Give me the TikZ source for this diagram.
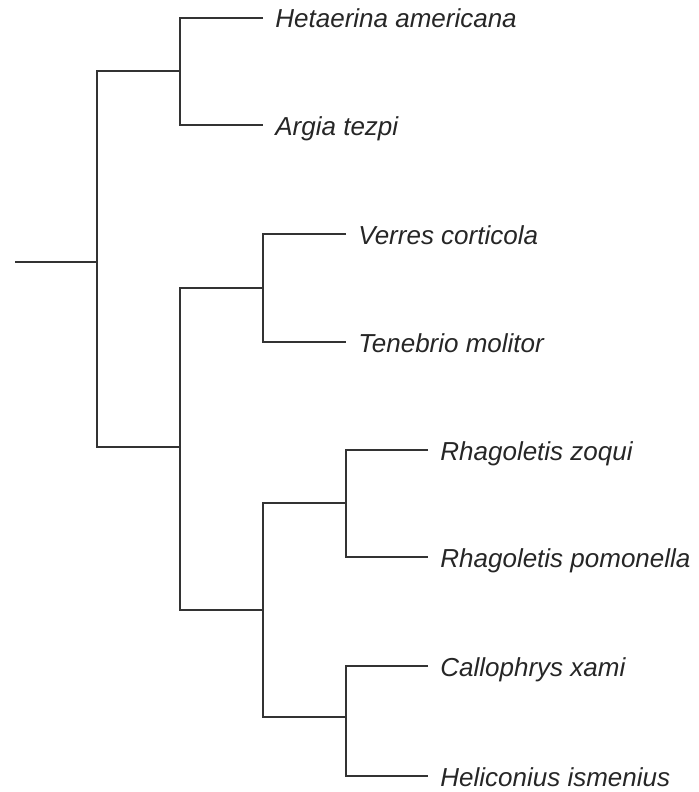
\documentclass[tikz,border=0pt]{standalone}
\usepackage{fontspec}
\setmainfont{Liberation Sans}
\usepackage{tikz}

\begin{document}
\begin{tikzpicture}[x=0.5pt,y=-0.5pt,
	branch/.style={-, line width=1pt, draw=black!80},
	taxon/.style={anchor=west, inner xsep=6pt, inner ysep=0pt, text height=11pt, text depth=1pt, font=\itshape\fontsize{13}{15}\selectfont, text=black!85}]

	\useasboundingbox (0,0) rectangle (699,792);

	\coordinate (r0)   at (15, 262);
	\coordinate (root) at (97, 262);
	\coordinate (odo)  at (180, 71);
	\coordinate (rest) at (180, 447);
	\coordinate (col)  at (263, 288);
	\coordinate (hol)  at (263, 610);
	\coordinate (dip)  at (346, 503);
	\coordinate (lep)  at (346, 717);

	\node[taxon] (het) at (263, 18)  {Hetaerina americana};
	\node[taxon] (arg) at (263, 125) {Argia tezpi};
	\node[taxon] (ver) at (346, 234) {Verres corticola};
	\node[taxon] (ten) at (346, 342) {Tenebrio molitor};
	\node[taxon] (rzo) at (428, 450) {Rhagoletis zoqui};
	\node[taxon] (rpo) at (428, 557) {Rhagoletis pomonella};
	\node[taxon] (cal) at (428, 666) {Callophrys xami};
	\node[taxon] (hel) at (428, 776) {Heliconius ismenius};

	\draw[branch] (r0) -- (root);
	\draw[branch] (odo) -| (root) |- (rest);
	\draw[branch] (het.west) -| (odo) |- (arg.west);
	\draw[branch] (col) -| (rest) |- (hol);
	\draw[branch] (ver.west) -| (col) |- (ten.west);
	\draw[branch] (dip) -| (hol) |- (lep);
	\draw[branch] (rzo.west) -| (dip) |- (rpo.west);
	\draw[branch] (cal.west) -| (lep) |- (hel.west);

\end{tikzpicture}
\end{document}
